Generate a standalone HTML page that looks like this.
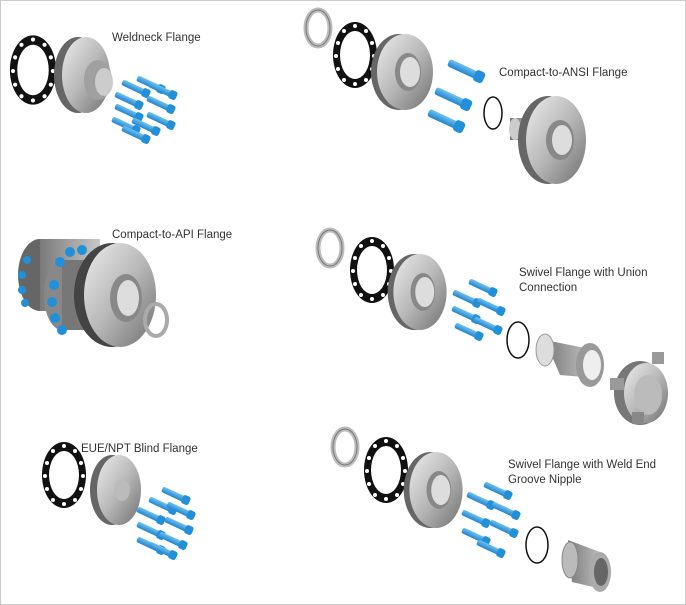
<!DOCTYPE html>
<html><head><style>
html,body{margin:0;padding:0;background:#fff}
svg{display:block}
text{font-family:"Liberation Sans",sans-serif;font-size:11.5px;fill:#333}
</style></head><body>
<svg width="686" height="605" viewBox="0 0 686 605" xmlns="http://www.w3.org/2000/svg">
<defs>
<linearGradient id="g" x1="0" y1="0" x2="1" y2="1"><stop offset="0" stop-color="#ececec"/><stop offset="0.5" stop-color="#b8b8b8"/><stop offset="1" stop-color="#707070"/></linearGradient>
<linearGradient id="gs" x1="0" y1="0" x2="1" y2="0"><stop offset="0" stop-color="#7a7a7a"/><stop offset="1" stop-color="#c8c8c8"/></linearGradient>
<linearGradient id="b" x1="0" y1="0" x2="0" y2="1"><stop offset="0" stop-color="#6cc2f2"/><stop offset="1" stop-color="#2384cc"/></linearGradient>
<g id="bolt"><rect x="-14" y="-3" width="24" height="6" rx="2" fill="url(#b)"/><rect x="8" y="-4.5" width="8" height="9" rx="2.5" fill="#2290d8"/></g>
<g id="gk"><ellipse rx="22" ry="33" fill="#111"/><ellipse rx="15" ry="24" fill="#fff"/>
<g fill="#fff"><circle cx="0" cy="-29" r="2"/><circle cx="11" cy="-24" r="2"/><circle cx="17" cy="-12" r="2"/><circle cx="19" cy="1" r="2"/><circle cx="17" cy="14" r="2"/><circle cx="11" cy="25" r="2"/><circle cx="0" cy="29" r="2"/><circle cx="-11" cy="25" r="2"/><circle cx="-17" cy="14" r="2"/><circle cx="-19" cy="1" r="2"/><circle cx="-17" cy="-12" r="2"/><circle cx="-11" cy="-24" r="2"/></g></g>
<g id="ring"><ellipse rx="12" ry="18" fill="none" stroke="#bbb" stroke-width="5"/><ellipse rx="12" ry="18" fill="none" stroke="#777" stroke-width="1"/></g>
<g id="fl"><ellipse cx="-6" rx="28" ry="38" fill="#666"/><ellipse rx="28" ry="38" fill="url(#g)"/><ellipse cx="3" rx="13" ry="19" fill="#888"/><ellipse cx="5" rx="10" ry="15" fill="#ddd"/></g>
</defs>
<rect x="0.5" y="0.5" width="685" height="604" fill="#fff" stroke="#ccc"/>

<!-- Panel 1 -->
<use href="#gk" transform="translate(33,70) scale(1.05)"/>
<ellipse cx="78" cy="75" rx="24" ry="38" fill="#666"/>
<ellipse cx="86" cy="75" rx="24" ry="38" fill="url(#g)"/>
<ellipse cx="98" cy="80" rx="14" ry="20" fill="#a0a0a0"/><ellipse cx="104" cy="82" rx="9" ry="14" fill="#ccc"/>
<use href="#bolt" transform="translate(150,84) rotate(25)"/><use href="#bolt" transform="translate(162,90) rotate(25)"/>
<use href="#bolt" transform="translate(135,88) rotate(25)"/><use href="#bolt" transform="translate(160,104) rotate(25)"/>
<use href="#bolt" transform="translate(128,100) rotate(25)"/><use href="#bolt" transform="translate(160,120) rotate(25)"/>
<use href="#bolt" transform="translate(128,112) rotate(25)"/><use href="#bolt" transform="translate(145,126) rotate(25)"/>
<use href="#bolt" transform="translate(125,125) rotate(25)"/><use href="#bolt" transform="translate(135,134) rotate(25)"/>
<text x="112" y="41">Weldneck Flange</text>

<!-- Panel 2 -->
<use href="#ring" transform="translate(318,28)"/>
<use href="#gk" transform="translate(355,55)"/>
<use href="#fl" transform="translate(405,72)"/>
<use href="#bolt" transform="translate(465,70) rotate(25) scale(1.3)"/>
<use href="#bolt" transform="translate(452,98) rotate(25) scale(1.3)"/>
<use href="#bolt" transform="translate(445,120) rotate(25) scale(1.3)"/>
<ellipse cx="493" cy="113" rx="9" ry="16" fill="none" stroke="#111" stroke-width="1.5"/>
<rect x="510" y="118" width="30" height="22" fill="url(#gs)"/>
<ellipse cx="515" cy="129" rx="6" ry="11" fill="#ccc"/>
<ellipse cx="548" cy="140" rx="30" ry="44" fill="#666"/>
<ellipse cx="556" cy="140" rx="30" ry="44" fill="url(#g)"/>
<ellipse cx="560" cy="140" rx="14" ry="20" fill="#888"/><ellipse cx="562" cy="140" rx="10" ry="15" fill="#ddd"/>
<text x="499" y="76">Compact-to-ANSI Flange</text>

<!-- Panel 3 -->
<ellipse cx="40" cy="275" rx="22" ry="36" fill="#666"/>
<rect x="40" y="239" width="60" height="72" fill="url(#gs)"/>
<ellipse cx="62" cy="295" rx="18" ry="35" fill="#888"/>
<rect x="62" y="260" width="55" height="70" fill="#777"/>
<ellipse cx="112" cy="295" rx="38" ry="52" fill="#444"/>
<ellipse cx="120" cy="295" rx="36" ry="52" fill="url(#g)"/>
<ellipse cx="126" cy="298" rx="16" ry="24" fill="#888"/><ellipse cx="128" cy="298" rx="11" ry="18" fill="#ddd"/>
<g fill="#2290d8"><circle cx="27" cy="260" r="4"/><circle cx="22" cy="275" r="4"/><circle cx="22" cy="290" r="4"/><circle cx="25" cy="303" r="4"/>
<circle cx="60" cy="262" r="5"/><circle cx="70" cy="252" r="5"/><circle cx="82" cy="250" r="5"/><circle cx="54" cy="285" r="5"/><circle cx="52" cy="302" r="5"/><circle cx="55" cy="318" r="5"/><circle cx="62" cy="330" r="5"/></g>
<ellipse cx="156" cy="320" rx="11" ry="16" fill="none" stroke="#aaa" stroke-width="4"/>
<text x="112" y="238">Compact-to-API Flange</text>

<!-- Panel 4 -->
<use href="#ring" transform="translate(330,248)"/>
<use href="#gk" transform="translate(372,270)"/>
<use href="#fl" transform="translate(420,292) scale(0.95,1)"/>
<use href="#bolt" transform="translate(482,287) rotate(25)"/>
<use href="#bolt" transform="translate(466,298) rotate(25)"/><use href="#bolt" transform="translate(490,306) rotate(25)"/>
<use href="#bolt" transform="translate(465,314) rotate(25)"/><use href="#bolt" transform="translate(487,325) rotate(25)"/>
<use href="#bolt" transform="translate(468,331) rotate(25)"/>
<ellipse cx="518" cy="340" rx="11" ry="18" fill="none" stroke="#111" stroke-width="1.5"/>
<polygon points="545,340 585,348 595,378 560,375" fill="url(#gs)"/>
<ellipse cx="545" cy="350" rx="9" ry="16" fill="#ddd" stroke="#999"/>
<ellipse cx="590" cy="365" rx="14" ry="22" fill="#999"/><ellipse cx="592" cy="365" rx="9" ry="15" fill="#eee"/>
<ellipse cx="640" cy="393" rx="26" ry="32" fill="#777"/>
<ellipse cx="646" cy="393" rx="22" ry="30" fill="url(#g)"/>
<ellipse cx="648" cy="395" rx="14" ry="20" fill="#bbb"/>
<rect x="610" y="378" width="14" height="12" fill="#999"/><rect x="652" y="352" width="12" height="12" fill="#999"/><rect x="632" y="412" width="12" height="12" fill="#888"/>
<text x="519" y="276">Swivel Flange with Union</text>
<text x="519" y="291">Connection</text>

<!-- Panel 5 -->
<use href="#gk" transform="translate(64,475)"/>
<ellipse cx="112" cy="490" rx="22" ry="35" fill="#666"/>
<ellipse cx="119" cy="490" rx="22" ry="35" fill="url(#g)"/>
<ellipse cx="122" cy="490" rx="8" ry="11" fill="#bbb"/>
<use href="#bolt" transform="translate(175,495) rotate(25)"/><use href="#bolt" transform="translate(162,505) rotate(25)"/>
<use href="#bolt" transform="translate(180,510) rotate(25)"/><use href="#bolt" transform="translate(150,515) rotate(25)"/>
<use href="#bolt" transform="translate(178,525) rotate(25)"/><use href="#bolt" transform="translate(150,530) rotate(25)"/>
<use href="#bolt" transform="translate(172,540) rotate(25)"/><use href="#bolt" transform="translate(150,545) rotate(25)"/>
<use href="#bolt" transform="translate(162,550) rotate(25)"/>
<text x="81" y="452">EUE/NPT Blind Flange</text>

<!-- Panel 6 -->
<use href="#ring" transform="translate(345,447)"/>
<use href="#gk" transform="translate(386,470)"/>
<use href="#fl" transform="translate(436,490) scale(0.95,1)"/>
<use href="#bolt" transform="translate(497,490) rotate(25)"/><use href="#bolt" transform="translate(480,500) rotate(25)"/>
<use href="#bolt" transform="translate(505,510) rotate(25)"/><use href="#bolt" transform="translate(475,518) rotate(25)"/>
<use href="#bolt" transform="translate(503,528) rotate(25)"/><use href="#bolt" transform="translate(475,536) rotate(25)"/>
<use href="#bolt" transform="translate(490,548) rotate(25)"/>
<ellipse cx="537" cy="545" rx="11" ry="18" fill="none" stroke="#111" stroke-width="1.5"/>
<polygon points="568,540 600,552 606,590 572,582" fill="url(#gs)"/>
<ellipse cx="570" cy="560" rx="8" ry="18" fill="#bbb" stroke="#888"/>
<ellipse cx="600" cy="572" rx="11" ry="20" fill="#aaa"/><ellipse cx="601" cy="572" rx="7" ry="14" fill="#666"/>
<text x="508" y="468">Swivel Flange with Weld End</text>
<text x="508" y="483">Groove Nipple</text>
</svg>
</body></html>
